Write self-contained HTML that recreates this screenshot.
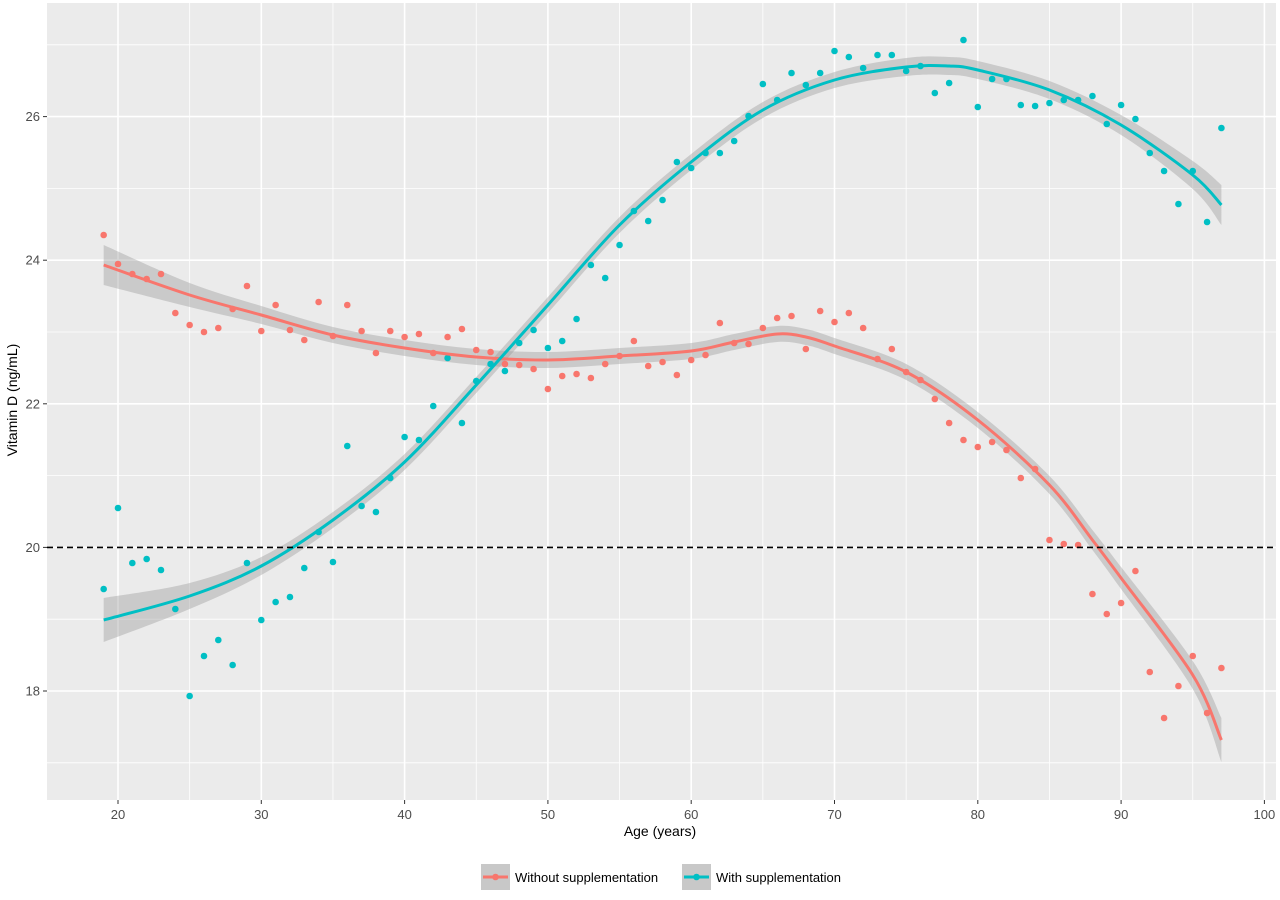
<!DOCTYPE html><html><head><style>body{margin:0;background:#fff}svg{font-family:"Liberation Sans",sans-serif}</style></head><body>
<svg id="s" width="1280" height="895" xmlns="http://www.w3.org/2000/svg"></svg>
<script>
const S=document.getElementById('s');let h='';
const X=a=>118+(a-20)*14.33, Y=v=>691-(v-18)*71.8;
h+='<rect x="47" y="3" width="1229" height="797" fill="#ebebeb"/>';
for(let a=15;a<=100;a+=5){const x=X(a);if(x<47||x>1276)continue;h+=`<line x1="${x}" x2="${x}" y1="3" y2="800" stroke="#fff" stroke-width="${a%10?0.8:1.6}"/>`;}
for(let v=17;v<=27;v++){const y=Y(v);h+=`<line x1="47" x2="1276" y1="${y}" y2="${y}" stroke="#fff" stroke-width="${v%2?0.8:1.6}"/>`;}
for(let a=20;a<=100;a+=10){const x=X(a);h+=`<line x1="${x}" x2="${x}" y1="800" y2="804" stroke="#333"/><text x="${x}" y="819" font-size="13" fill="#4d4d4d" text-anchor="middle">${a}</text>`;}
for(let v=18;v<=26;v+=2){const y=Y(v);h+=`<line x1="43" x2="47" y1="${y}" y2="${y}" stroke="#333"/><text x="40" y="${y+4.5}" font-size="13" fill="#4d4d4d" text-anchor="end">${v}</text>`;}
h+=`<text x="660" y="836" font-size="14" fill="#000" text-anchor="middle">Age (years)</text>`;
h+=`<text transform="translate(17,400) rotate(-90)" font-size="14" fill="#000" text-anchor="middle">Vitamin D (ng/mL)</text>`;
function spline(p){let d=`M${p[0][0]},${p[0][1]}`;for(let i=0;i<p.length-1;i++){const p0=p[i-1]||p[i],p1=p[i],p2=p[i+1],p3=p[i+2]||p2;d+=`C${p1[0]+(p2[0]-p0[0])/6},${p1[1]+(p2[1]-p0[1])/6} ${p2[0]-(p3[0]-p1[0])/6},${p2[1]-(p3[1]-p1[1])/6} ${p2[0]},${p2[1]}`;}return d;}
function band(c,w){const up=c.map((q,i)=>[X(q[0]),q[1]-w[i]]),dn=c.map((q,i)=>[X(q[0]),q[1]+w[i]]).reverse();return spline(up)+'L'+spline(dn).slice(1)+'Z';}
const rc=[[19,265],[25,295],[30,315],[35,335],[40,348],[45,357],[50,360],[55,356],[60,351],[63,342],[66,334],[68,337],[70,346],[75,372],[80,420],[85,485],[88,540],[90,578],[95,675],[97,740]];
const rw=[20,12,9,8,8,8,8,8,8,8,8,8,8,8,8,9,10,11,14,22];
const cc=[[19,620],[25,596],[30,566],[35,520],[40,462],[45,385],[50,305],[55,225],[60,162],[65,110],[70,80],[75,67],[78,66],[80,70],[85,90],[90,125],[95,175],[97,205]];
const cw=[22,13,9,8,8,8,8,8,8,8,8,9,9,9,9,10,14,20];
h+=`<path d="${band(rc,rw)}" fill="#999" opacity="0.4"/><path d="${band(cc,cw)}" fill="#999" opacity="0.4"/>`;
const r=[235,264,274,279,274,313,325,332,328,309,286,331,305,330,340,302,336,305,331,353,331,337,334,353,337,329,350,352,364,365,369,389,376,374,378,364,356,341,366,362,375,360,355,323,343,344,328,318,316,349,311,322,313,328,359,349,372,380,399,423,440,447,442,450,478,469,540,544,545,594,614,603,571,672,718,686,656,713,668];
const c=[589,508,563,559,570,609,696,656,640,665,563,620,602,597,568,532,562,446,506,512,478,437,440,406,358,423,381,364,371,343,330,348,341,319,265,278,245,211,221,200,162,168,153,153,141,116,84,100,73,85,73,51,57,68,55,55,71,66,93,83,40,107,79,79,105,106,103,100,100,96,124,105,119,153,171,204,171,222,128];
r.forEach((y,i)=>h+=`<circle cx="${X(19+i)}" cy="${y}" r="3.3" fill="#f8766d"/>`);
c.forEach((y,i)=>h+=`<circle cx="${X(19+i)}" cy="${y}" r="3.3" fill="#00bfc4"/>`);
h+=`<path d="${spline(rc.map(q=>[X(q[0]),q[1]]))}" fill="none" stroke="#f8766d" stroke-width="3"/>`;
h+=`<path d="${spline(cc.map(q=>[X(q[0]),q[1]]))}" fill="none" stroke="#00bfc4" stroke-width="3"/>`;
h+=`<line x1="47" x2="1276" y1="${Y(20)}" y2="${Y(20)}" stroke="#000" stroke-width="1.6" stroke-dasharray="6,4"/>`;
[[481,"#f8766d","Without supplementation"],[682,"#00bfc4","With supplementation"]].forEach(([x,col,t])=>{h+=`<rect x="${x}" y="864" width="29" height="26" fill="#c8c8c8"/><line x1="${x+2}" x2="${x+27}" y1="877" y2="877" stroke="${col}" stroke-width="3"/><circle cx="${x+14.5}" cy="877" r="3.3" fill="${col}"/><text x="${x+34}" y="882" font-size="13" fill="#000">${t}</text>`;});
S.innerHTML=h;
</script></body></html>
